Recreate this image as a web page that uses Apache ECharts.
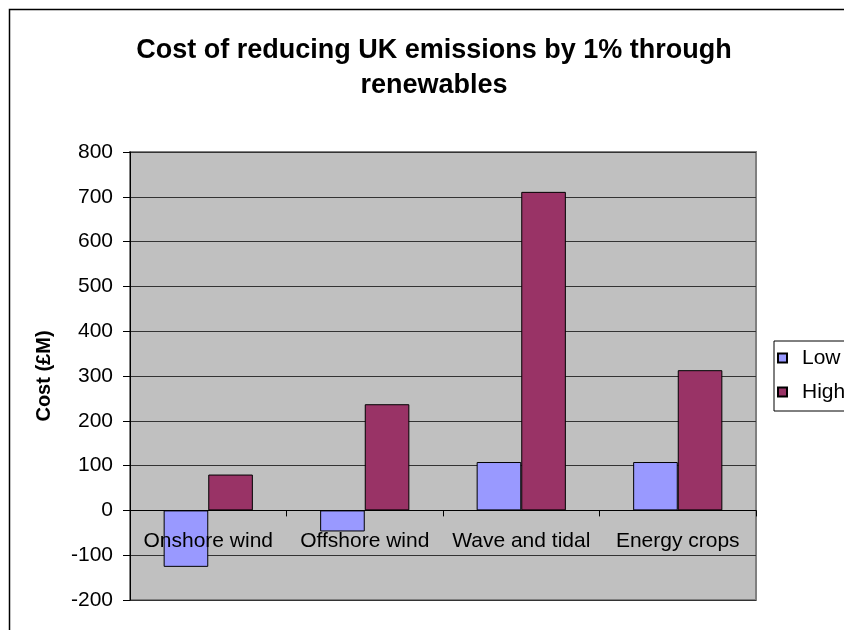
<!DOCTYPE html>
<html>
<head>
<meta charset="utf-8">
<script src="https://cdn.jsdelivr.net/npm/echarts@6/dist/echarts.min.js"></script>
<style>
html,body{margin:0;padding:0;background:#fff;}
#chart{width:844px;height:630px;}
</style>
</head>
<body>
<div id="chart"></div>
<script>
var categories = ['Onshore wind', 'Offshore wind', 'Wave and tidal', 'Energy crops'];
var lowValues = [-126, -47, 108, 108];
var highValues = [80, 237, 711, 313];
var seriesNames = ['Low', 'High'];
var titleText = 'Cost of reducing UK emissions by 1% through\nrenewables';
var yAxisTitle = 'Cost (£M)';
var yMin = -200, yMax = 800, yStep = 100;

var FONT = '"Liberation Sans", Arial, sans-serif';
var GRID_TOP = 152, GRID_BOTTOM = 30, H = 630;
var plotH = H - GRID_TOP - GRID_BOTTOM;
var zeroY = GRID_TOP + plotH * (yMax - 0) / (yMax - yMin);
var xOffset = -((H - GRID_BOTTOM) - zeroY);

var chart = echarts.init(document.getElementById('chart'), null, {renderer: 'canvas'});
chart.setOption({
  animation: false,
  backgroundColor: '#ffffff',
  title: {
    text: titleText,
    left: 429, top: 28, textAlign: 'center',
    textStyle: {fontFamily: FONT, fontSize: 27, fontWeight: 'bold', color: '#000', lineHeight: 35}
  },
  graphic: [{
    type: 'rect', left: 7, top: 7, z: -1,
    shape: {x: 0, y: 0, width: 900, height: 700},
    style: {fill: 'none', stroke: '#000', lineWidth: 1.5}
  }],
  legend: {
    data: seriesNames,
    orient: 'vertical',
    left: 774, top: 341,
    padding: [5, 30, 7, 3],
    itemGap: 10,
    itemWidth: 9, itemHeight: 9,
    icon: 'rect',
    borderColor: '#000', borderWidth: 1,
    textStyle: {fontFamily: FONT, fontSize: 21, color: '#000', lineHeight: 24, padding: [0, 0, 0, 10]}
  },
  grid: {
    left: 130, top: GRID_TOP, right: 88, bottom: GRID_BOTTOM,
    containLabel: false,
    outerBoundsMode: 'none',
    show: true, backgroundColor: '#C0C0C0', borderColor: '#808080', borderWidth: 2
  },
  xAxis: {
    type: 'category',
    data: categories,
    position: 'bottom',
    offset: xOffset,
    z: 5,
    axisLine: {onZero: false, lineStyle: {color: '#000', width: 1}},
    axisTick: {show: true, interval: 0, alignWithLabel: false, length: 6, lineStyle: {color: '#000'}},
    axisLabel: {interval: 0, hideOverlap: false, fontFamily: FONT, fontSize: 21, color: '#000', margin: 20},
    splitLine: {show: false}
  },
  yAxis: {
    type: 'value',
    min: yMin, max: yMax, interval: yStep,
    name: yAxisTitle,
    nameLocation: 'middle',
    nameGap: 76,
    nameRotate: 90,
    nameTextStyle: {fontFamily: FONT, fontSize: 20, fontWeight: 'bold', color: '#000'},
    axisLine: {show: true, lineStyle: {color: '#000', width: 1}},
    axisTick: {show: true, length: 7, lineStyle: {color: '#000'}},
    axisLabel: {fontFamily: FONT, fontSize: 21, color: '#000', margin: 17},
    splitLine: {show: true, lineStyle: {color: '#333', width: 1}}
  },
  series: [{
    name: seriesNames[0],
    type: 'bar',
    data: lowValues,
    barGap: '0%',
    barCategoryGap: '43%',
    itemStyle: {color: '#9999FF', borderColor: '#000', borderWidth: 1}
  }, {
    name: seriesNames[1],
    type: 'bar',
    data: highValues,
    barGap: '0%',
    barCategoryGap: '43%',
    itemStyle: {color: '#993366', borderColor: '#000', borderWidth: 1}
  }]
});
</script>
</body>
</html>
